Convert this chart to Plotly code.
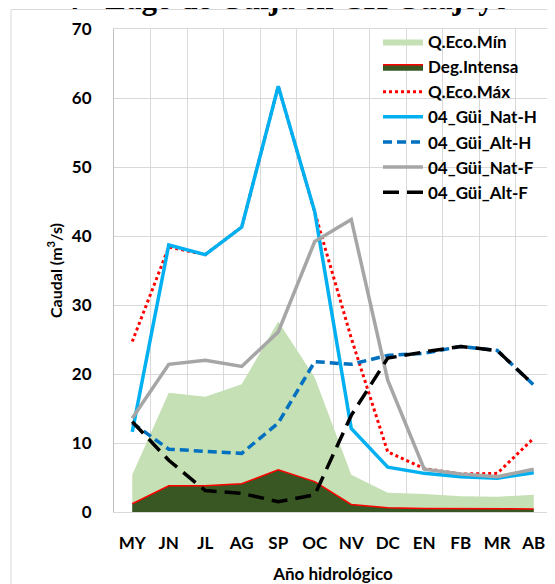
import plotly.graph_objects as go

months = ["MY", "JN", "JL", "AG", "SP", "OC", "NV", "DC", "EN", "FB", "MR", "AB"]

q_eco_min = [5.4, 17.3, 16.7, 18.5, 27.6, 19.5, 5.4, 2.8, 2.6, 2.3, 2.2, 2.5]
deg_intensa = [1.2, 3.8, 3.8, 4.1, 6.1, 4.4, 1.1, 0.6, 0.5, 0.45, 0.45, 0.45]
q_eco_max = [24.7, 38.4, 37.3, 41.3, 61.7, 43.3, 25.2, 8.7, 6.3, 5.5, 5.6, 10.7]
nat_h = [11.6, 38.7, 37.3, 41.3, 61.7, 43.5, 12.1, 6.5, 5.6, 5.1, 4.9, 5.7]
alt_h = [12.9, 9.1, 8.8, 8.5, 12.9, 21.8, 21.4, 22.7, 23.0, 24.0, 23.4, 18.4]
nat_f = [13.6, 21.4, 22.0, 21.1, 26.1, 39.2, 42.4, 19.1, 6.2, 5.5, 5.1, 6.2]
alt_f = [13.1, 7.5, 3.1, 2.7, 1.5, 2.5, 14.0, 22.3, 23.2, 24.0, 23.4, 18.4]

title_text = "4 - Lago de Güija en CH Guajoyo"
y_ticks = [0, 10, 20, 30, 40, 50, 60, 70]

# page has an 8px body margin; work in screen pixels and convert
OFF = 8
W, H = 555 - OFF, 584 - OFF
PL, PR, PT, PB = 114, 552, 29, 512  # plot box in screen px
L, R, T, B = PL - OFF, W - (PR - OFF), PT - OFF, H - (PB - OFF)
pw, ph = W - L - R, H - T - B

def px_x(p):
    return (p - PL) / pw

def px_y(p):
    return (PB - p) / ph

FONT = "Lato"

fig = go.Figure()
fig.add_trace(go.Scatter(x=months, y=q_eco_min, name="Q.Eco.Mín", mode="lines",
                         fill="tozeroy", fillcolor="#C5E0B4",
                         line=dict(color="#C5E0B4", width=0)))
fig.add_trace(go.Scatter(x=months, y=deg_intensa, name="Deg.Intensa", mode="lines",
                         fill="tozeroy", fillcolor="#385723",
                         line=dict(color="#FF0000", width=1.5)))
fig.add_trace(go.Scatter(x=months, y=q_eco_max, name="Q.Eco.Máx", mode="lines",
                         line=dict(color="#FF0000", width=3, dash="dot")))
fig.add_trace(go.Scatter(x=months, y=nat_h, name="04_Güi_Nat-H", mode="lines",
                         line=dict(color="#00B0F0", width=3.5)))
fig.add_trace(go.Scatter(x=months, y=alt_h, name="04_Güi_Alt-H", mode="lines",
                         line=dict(color="#0070C0", width=3.5, dash="9px,5px")))
fig.add_trace(go.Scatter(x=months, y=nat_f, name="04_Güi_Nat-F", mode="lines",
                         line=dict(color="#A6A6A6", width=3.5)))
fig.add_trace(go.Scatter(x=months, y=alt_f, name="04_Güi_Alt-F", mode="lines",
                         line=dict(color="#000000", width=3.5, dash="16px,8px")))

fig.update_layout(
    width=W, height=H,
    margin=dict(l=L, r=R, t=T, b=B, pad=0),
    paper_bgcolor="white", plot_bgcolor="white",
    font=dict(family=FONT, color="#000000"),
    showlegend=True,
    legend=dict(x=px_x(378), y=px_y(24), xanchor="left", yanchor="top",
                bgcolor="rgba(0,0,0,0)", borderwidth=0,
                font=dict(family=FONT, size=17, color="#000000", weight="bold"),
                itemwidth=40, tracegroupgap=0),
    xaxis=dict(type="category", range=[-0.5, len(months) - 0.5], tickson="boundaries",
               showgrid=True, gridcolor="#D9D9D9", gridwidth=1, showline=True,
               linecolor="#D9D9D9", mirror=True, automargin=False, tickangle=0,
               ticks="", ticklabelstandoff=16,
               tickfont=dict(family=FONT, size=17, weight="bold"),
               title=dict(text="Año hidrológico", standoff=17,
                          font=dict(family=FONT, size=17, weight="bold"))),
    yaxis=dict(range=[0, 70], tickvals=y_ticks, showgrid=True, gridcolor="#D9D9D9",
               gridwidth=1, showline=True, linecolor="#BFBFBF", mirror=True,
               zeroline=False, automargin=False,
               ticks="outside", ticklen=18, tickcolor="rgba(0,0,0,0)",
               tickfont=dict(family=FONT, size=17, weight="bold"),
               title=dict(text="Caudal (m<sup>3</sup>/s)", standoff=5,
                          font=dict(family=FONT, size=16, weight="bold"))),
    annotations=[dict(text="<b>" + title_text + "</b>", xref="paper", yref="paper",
                      x=px_x(286.5), y=px_y(-2), xanchor="center", yanchor="middle",
                      showarrow=False,
                      font=dict(family="Liberation Serif", size=31, color="#000000"))],
    shapes=[
        dict(type="rect", xref="paper", yref="paper", layer="below",
             x0=px_x(11), x1=px_x(600), y0=px_y(600), y1=px_y(9.5),
             line=dict(color="#D9D9D9", width=1), fillcolor="rgba(0,0,0,0)"),
        dict(type="rect", xref="paper", yref="paper", layer="between",
             x0=px_x(374), x1=px_x(551), y0=px_y(195), y1=px_y(34),
             line=dict(width=0), fillcolor="white"),
    ],
)

fig.write_html("out.html")
